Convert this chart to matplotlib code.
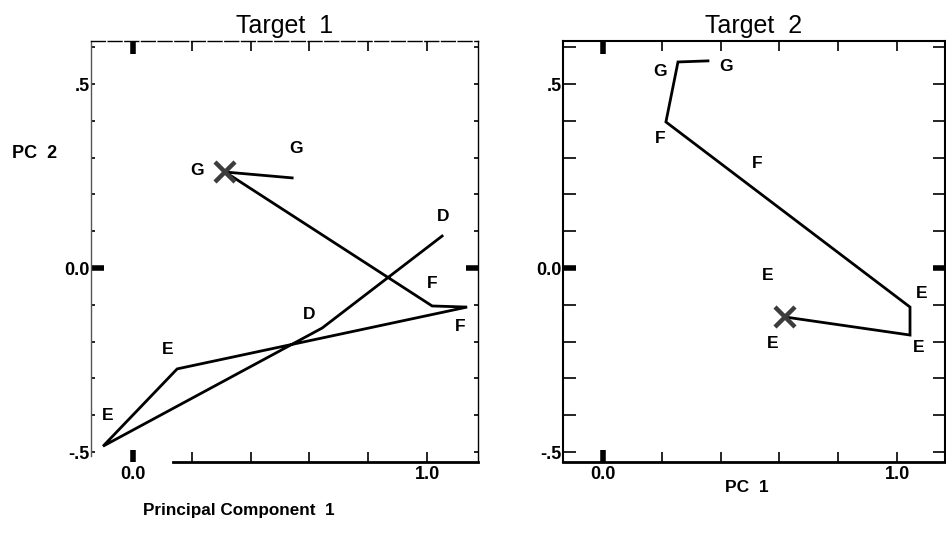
import matplotlib.pyplot as plt
from matplotlib.ticker import FixedLocator, FixedFormatter

plt.rcParams['font.family'] = ['Liberation Sans', 'DejaVu Sans']

# trajectory through PC space, target 1
t1_pc1 = [1.051, 0.643, -0.102, 0.150, 1.136, 1.017, 0.313, 0.541]
t1_pc2 = [0.087, -0.163, -0.484, -0.274, -0.106, -0.103, 0.261, 0.245]
t1_mark = (0.313, 0.261)
t1_lab = ['G', 'G', 'D', 'F', 'F', 'D', 'E', 'E']
t1_lab_x = [0.218, 0.554, 1.054, 1.017, 1.112, 0.599, 0.119, -0.088]
t1_lab_y = [0.266, 0.326, 0.141, -0.041, -0.158, -0.125, -0.220, -0.402]

# trajectory through PC space, target 2
t2_pc1 = [0.619, 1.044, 1.044, 0.214, 0.255, 0.357]
t2_pc2 = [-0.133, -0.182, -0.106, 0.397, 0.560, 0.563]
t2_mark = (0.619, -0.133)
t2_lab = ['G', 'G', 'F', 'F', 'E', 'E', 'E', 'E']
t2_lab_x = [0.194, 0.418, 0.194, 0.524, 0.561, 1.082, 0.578, 1.075]
t2_lab_y = [0.535, 0.549, 0.353, 0.283, -0.019, -0.068, -0.204, -0.217]

x_ticks = [0.0, 0.2, 0.4, 0.6, 0.8, 1.0]
x_labels = ['0.0', '', '', '', '', '1.0']
y_ticks = [-0.5, -0.4, -0.3, -0.2, -0.1, 0.0, 0.1, 0.2, 0.3, 0.4, 0.5, 0.6]
y_labels = ['-.5', '', '', '', '', '0.0', '', '', '', '', '.5', '']

W, H = 946, 546
fig = plt.figure(figsize=(W / 100, H / 100), dpi=100)


def px_axes(x0, y0, x1, y1):
    return fig.add_axes([x0 / W, 1 - y1 / H, (x1 - x0) / W, (y1 - y0) / H])


def style(ax, title, left_len, spine_w):
    ax.set_title(title, fontsize=18, pad=6)
    ax.xaxis.set_major_locator(FixedLocator(x_ticks))
    ax.xaxis.set_major_formatter(FixedFormatter(x_labels))
    ax.yaxis.set_major_locator(FixedLocator(y_ticks))
    ax.yaxis.set_major_formatter(FixedFormatter(y_labels))
    ax.tick_params(direction='in', top=True, right=True, width=1.2,
                   length=7, labelsize=13, pad=3)
    ax.tick_params(axis='y', which='major', left=True, pad=1)
    ax.tick_params(axis='y', which='major', length=left_len)
    for lab in ax.get_xticklabels() + ax.get_yticklabels():
        lab.set_fontweight('bold')
    # heavy marks at the origin lines
    for tick in ax.xaxis.get_major_ticks()[:1] + ax.yaxis.get_major_ticks()[5:6]:
        for ln in (tick.tick1line, tick.tick2line):
            ln.set_markeredgewidth(4)
            ln.set_markersize(9)
    for sp in ax.spines.values():
        sp.set_linewidth(spine_w)


# Target 1
ax1 = px_axes(91, 41, 478, 462)
ax1.set_xlim(-0.143, 1.173)
ax1.set_ylim(-0.527, 0.617)
ax1.plot(t1_pc1, t1_pc2, color='black', lw=2.0, solid_joinstyle='miter')
ax1.plot(*t1_mark, marker='x', ms=14, mew=3.2, color='#3c3c3c')
for s, x, y in zip(t1_lab, t1_lab_x, t1_lab_y):
    ax1.text(x, y, s, ha='center', va='center', fontsize=12.5, fontweight='bold')
style(ax1, 'Target  1', 3, 1.0)
ax1.spines['bottom'].set_bounds(0.136, 1.173)
ax1.spines['bottom'].set_linewidth(2.0)
ax1.spines['left'].set_bounds(-0.51, 0.617)
ax1.spines['left'].set_color('#555555')
ax1.spines['top'].set_linestyle((0, (10, 2)))

# Target 2
ax2 = px_axes(563, 41, 945, 462)
ax2.set_xlim(-0.136, 1.163)
ax2.set_ylim(-0.527, 0.617)
ax2.plot(t2_pc1, t2_pc2, color='black', lw=2.0, solid_joinstyle='miter')
ax2.plot(*t2_mark, marker='x', ms=14, mew=3.2, color='#3c3c3c')
for s, x, y in zip(t2_lab, t2_lab_x, t2_lab_y):
    ax2.text(x, y, s, ha='center', va='center', fontsize=12.5, fontweight='bold')
style(ax2, 'Target  2', 9, 1.5)
ax2.spines['bottom'].set_linewidth(2.0)

fig.text(35 / W, 1 - 153 / H, 'PC  2', ha='center', va='center',
         fontsize=13, fontweight='bold')
fig.text(239 / W, 1 - 511 / H, 'Principal Component  1', ha='center',
         va='center', fontsize=12.3, fontweight='bold')
fig.text(747 / W, 1 - 487 / H, 'PC  1', ha='center', va='center',
         fontsize=12.5, fontweight='bold')

fig.savefig('out.png', dpi=100)
